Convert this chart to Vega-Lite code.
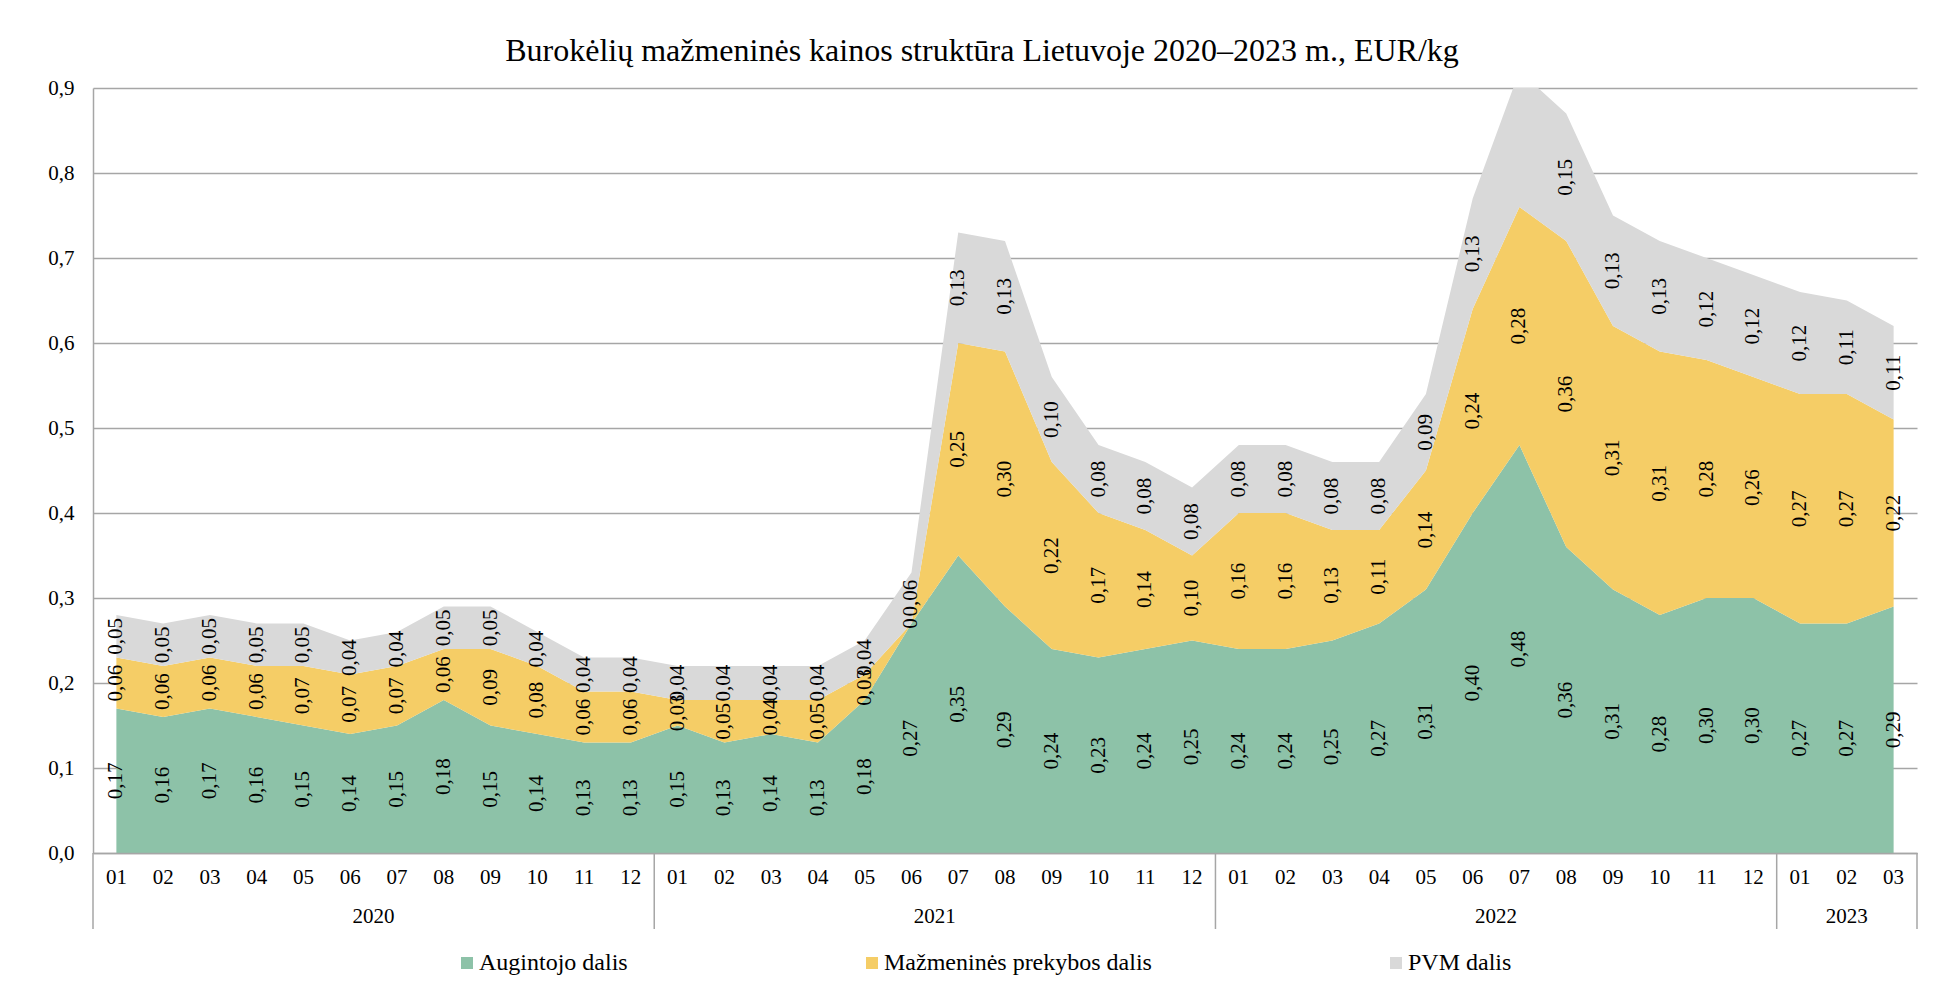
{
  "$schema": "https://vega.github.io/schema/vega-lite/v6.json",
  "width": 1824,
  "height": 765,
  "autosize": {"type": "none"},
  "padding": {"left": 93, "top": 88, "right": 20, "bottom": 147},
  "background": "white",
  "config": {
    "font": "Liberation Serif",
    "view": {"stroke": null},
    "text": {"font": "Liberation Serif", "color": "#000000"},
    "axis": {"labelFont": "Liberation Serif"},
    "legend": {"labelFont": "Liberation Serif"}
  },
  "title": {
    "text": "Burokėlių mažmeninės kainos struktūra Lietuvoje 2020–2023 m., EUR/kg",
    "font": "Liberation Serif",
    "fontSize": 32,
    "fontWeight": "normal",
    "color": "#000000",
    "anchor": "middle",
    "offset": 9,
    "dx": -23
  },
  "datasets": {
    "prices": [
      {"ym": "2020-01", "series": "Augintojo dalis", "value": 0.17},
      {"ym": "2020-01", "series": "Mažmeninės prekybos dalis", "value": 0.06},
      {"ym": "2020-01", "series": "PVM dalis", "value": 0.05},
      {"ym": "2020-02", "series": "Augintojo dalis", "value": 0.16},
      {"ym": "2020-02", "series": "Mažmeninės prekybos dalis", "value": 0.06},
      {"ym": "2020-02", "series": "PVM dalis", "value": 0.05},
      {"ym": "2020-03", "series": "Augintojo dalis", "value": 0.17},
      {"ym": "2020-03", "series": "Mažmeninės prekybos dalis", "value": 0.06},
      {"ym": "2020-03", "series": "PVM dalis", "value": 0.05},
      {"ym": "2020-04", "series": "Augintojo dalis", "value": 0.16},
      {"ym": "2020-04", "series": "Mažmeninės prekybos dalis", "value": 0.06},
      {"ym": "2020-04", "series": "PVM dalis", "value": 0.05},
      {"ym": "2020-05", "series": "Augintojo dalis", "value": 0.15},
      {"ym": "2020-05", "series": "Mažmeninės prekybos dalis", "value": 0.07},
      {"ym": "2020-05", "series": "PVM dalis", "value": 0.05},
      {"ym": "2020-06", "series": "Augintojo dalis", "value": 0.14},
      {"ym": "2020-06", "series": "Mažmeninės prekybos dalis", "value": 0.07},
      {"ym": "2020-06", "series": "PVM dalis", "value": 0.04},
      {"ym": "2020-07", "series": "Augintojo dalis", "value": 0.15},
      {"ym": "2020-07", "series": "Mažmeninės prekybos dalis", "value": 0.07},
      {"ym": "2020-07", "series": "PVM dalis", "value": 0.04},
      {"ym": "2020-08", "series": "Augintojo dalis", "value": 0.18},
      {"ym": "2020-08", "series": "Mažmeninės prekybos dalis", "value": 0.06},
      {"ym": "2020-08", "series": "PVM dalis", "value": 0.05},
      {"ym": "2020-09", "series": "Augintojo dalis", "value": 0.15},
      {"ym": "2020-09", "series": "Mažmeninės prekybos dalis", "value": 0.09},
      {"ym": "2020-09", "series": "PVM dalis", "value": 0.05},
      {"ym": "2020-10", "series": "Augintojo dalis", "value": 0.14},
      {"ym": "2020-10", "series": "Mažmeninės prekybos dalis", "value": 0.08},
      {"ym": "2020-10", "series": "PVM dalis", "value": 0.04},
      {"ym": "2020-11", "series": "Augintojo dalis", "value": 0.13},
      {"ym": "2020-11", "series": "Mažmeninės prekybos dalis", "value": 0.06},
      {"ym": "2020-11", "series": "PVM dalis", "value": 0.04},
      {"ym": "2020-12", "series": "Augintojo dalis", "value": 0.13},
      {"ym": "2020-12", "series": "Mažmeninės prekybos dalis", "value": 0.06},
      {"ym": "2020-12", "series": "PVM dalis", "value": 0.04},
      {"ym": "2021-01", "series": "Augintojo dalis", "value": 0.15},
      {"ym": "2021-01", "series": "Mažmeninės prekybos dalis", "value": 0.03},
      {"ym": "2021-01", "series": "PVM dalis", "value": 0.04},
      {"ym": "2021-02", "series": "Augintojo dalis", "value": 0.13},
      {"ym": "2021-02", "series": "Mažmeninės prekybos dalis", "value": 0.05},
      {"ym": "2021-02", "series": "PVM dalis", "value": 0.04},
      {"ym": "2021-03", "series": "Augintojo dalis", "value": 0.14},
      {"ym": "2021-03", "series": "Mažmeninės prekybos dalis", "value": 0.04},
      {"ym": "2021-03", "series": "PVM dalis", "value": 0.04},
      {"ym": "2021-04", "series": "Augintojo dalis", "value": 0.13},
      {"ym": "2021-04", "series": "Mažmeninės prekybos dalis", "value": 0.05},
      {"ym": "2021-04", "series": "PVM dalis", "value": 0.04},
      {"ym": "2021-05", "series": "Augintojo dalis", "value": 0.18},
      {"ym": "2021-05", "series": "Mažmeninės prekybos dalis", "value": 0.03},
      {"ym": "2021-05", "series": "PVM dalis", "value": 0.04},
      {"ym": "2021-06", "series": "Augintojo dalis", "value": 0.27},
      {"ym": "2021-06", "series": "Mažmeninės prekybos dalis", "value": 0},
      {"ym": "2021-06", "series": "PVM dalis", "value": 0.06},
      {"ym": "2021-07", "series": "Augintojo dalis", "value": 0.35},
      {"ym": "2021-07", "series": "Mažmeninės prekybos dalis", "value": 0.25},
      {"ym": "2021-07", "series": "PVM dalis", "value": 0.13},
      {"ym": "2021-08", "series": "Augintojo dalis", "value": 0.29},
      {"ym": "2021-08", "series": "Mažmeninės prekybos dalis", "value": 0.30},
      {"ym": "2021-08", "series": "PVM dalis", "value": 0.13},
      {"ym": "2021-09", "series": "Augintojo dalis", "value": 0.24},
      {"ym": "2021-09", "series": "Mažmeninės prekybos dalis", "value": 0.22},
      {"ym": "2021-09", "series": "PVM dalis", "value": 0.10},
      {"ym": "2021-10", "series": "Augintojo dalis", "value": 0.23},
      {"ym": "2021-10", "series": "Mažmeninės prekybos dalis", "value": 0.17},
      {"ym": "2021-10", "series": "PVM dalis", "value": 0.08},
      {"ym": "2021-11", "series": "Augintojo dalis", "value": 0.24},
      {"ym": "2021-11", "series": "Mažmeninės prekybos dalis", "value": 0.14},
      {"ym": "2021-11", "series": "PVM dalis", "value": 0.08},
      {"ym": "2021-12", "series": "Augintojo dalis", "value": 0.25},
      {"ym": "2021-12", "series": "Mažmeninės prekybos dalis", "value": 0.10},
      {"ym": "2021-12", "series": "PVM dalis", "value": 0.08},
      {"ym": "2022-01", "series": "Augintojo dalis", "value": 0.24},
      {"ym": "2022-01", "series": "Mažmeninės prekybos dalis", "value": 0.16},
      {"ym": "2022-01", "series": "PVM dalis", "value": 0.08},
      {"ym": "2022-02", "series": "Augintojo dalis", "value": 0.24},
      {"ym": "2022-02", "series": "Mažmeninės prekybos dalis", "value": 0.16},
      {"ym": "2022-02", "series": "PVM dalis", "value": 0.08},
      {"ym": "2022-03", "series": "Augintojo dalis", "value": 0.25},
      {"ym": "2022-03", "series": "Mažmeninės prekybos dalis", "value": 0.13},
      {"ym": "2022-03", "series": "PVM dalis", "value": 0.08},
      {"ym": "2022-04", "series": "Augintojo dalis", "value": 0.27},
      {"ym": "2022-04", "series": "Mažmeninės prekybos dalis", "value": 0.11},
      {"ym": "2022-04", "series": "PVM dalis", "value": 0.08},
      {"ym": "2022-05", "series": "Augintojo dalis", "value": 0.31},
      {"ym": "2022-05", "series": "Mažmeninės prekybos dalis", "value": 0.14},
      {"ym": "2022-05", "series": "PVM dalis", "value": 0.09},
      {"ym": "2022-06", "series": "Augintojo dalis", "value": 0.40},
      {"ym": "2022-06", "series": "Mažmeninės prekybos dalis", "value": 0.24},
      {"ym": "2022-06", "series": "PVM dalis", "value": 0.13},
      {"ym": "2022-07", "series": "Augintojo dalis", "value": 0.48},
      {"ym": "2022-07", "series": "Mažmeninės prekybos dalis", "value": 0.28},
      {"ym": "2022-07", "series": "PVM dalis", "value": 0.16},
      {"ym": "2022-08", "series": "Augintojo dalis", "value": 0.36},
      {"ym": "2022-08", "series": "Mažmeninės prekybos dalis", "value": 0.36},
      {"ym": "2022-08", "series": "PVM dalis", "value": 0.15},
      {"ym": "2022-09", "series": "Augintojo dalis", "value": 0.31},
      {"ym": "2022-09", "series": "Mažmeninės prekybos dalis", "value": 0.31},
      {"ym": "2022-09", "series": "PVM dalis", "value": 0.13},
      {"ym": "2022-10", "series": "Augintojo dalis", "value": 0.28},
      {"ym": "2022-10", "series": "Mažmeninės prekybos dalis", "value": 0.31},
      {"ym": "2022-10", "series": "PVM dalis", "value": 0.13},
      {"ym": "2022-11", "series": "Augintojo dalis", "value": 0.30},
      {"ym": "2022-11", "series": "Mažmeninės prekybos dalis", "value": 0.28},
      {"ym": "2022-11", "series": "PVM dalis", "value": 0.12},
      {"ym": "2022-12", "series": "Augintojo dalis", "value": 0.30},
      {"ym": "2022-12", "series": "Mažmeninės prekybos dalis", "value": 0.26},
      {"ym": "2022-12", "series": "PVM dalis", "value": 0.12},
      {"ym": "2023-01", "series": "Augintojo dalis", "value": 0.27},
      {"ym": "2023-01", "series": "Mažmeninės prekybos dalis", "value": 0.27},
      {"ym": "2023-01", "series": "PVM dalis", "value": 0.12},
      {"ym": "2023-02", "series": "Augintojo dalis", "value": 0.27},
      {"ym": "2023-02", "series": "Mažmeninės prekybos dalis", "value": 0.27},
      {"ym": "2023-02", "series": "PVM dalis", "value": 0.11},
      {"ym": "2023-03", "series": "Augintojo dalis", "value": 0.29},
      {"ym": "2023-03", "series": "Mažmeninės prekybos dalis", "value": 0.22},
      {"ym": "2023-03", "series": "PVM dalis", "value": 0.11}
    ]
  },
  "layer": [
    {
      "data": {"name": "prices"},
      "transform": [
        {"stack": "value", "groupby": ["ym"], "sort": [{"field": "series", "order": "ascending"}], "as": ["y0", "y1"]}
      ],
      "mark": {"type": "area", "clip": true, "opacity": 1},
      "encoding": {
        "x": {
          "field": "ym",
          "type": "ordinal",
          "bandPosition": 0.5,
          "scale": {"type": "band", "paddingInner": 0, "paddingOuter": 0},
          "axis": {
            "title": null,
            "labelExpr": "substring(datum.value, 5)",
            "labelAngle": 0,
            "ticks": false,
            "labelFontSize": 21,
            "labelFont": "Liberation Serif",
            "labelColor": "#000000",
            "labelPadding": 13,
            "domainColor": "#A6A6A6",
            "domainWidth": 1.5,
            "grid": false,
            "zindex": 1
          }
        },
        "y": {
          "field": "y1",
          "type": "quantitative",
          "scale": {"domain": [0, 0.9], "nice": false, "zero": true},
          "axis": {
            "title": null,
            "values": [0, 0.1, 0.2, 0.3, 0.4, 0.5, 0.6, 0.7, 0.8, 0.9],
            "labelExpr": "replace(format(datum.value, '.1f'), '.', ',')",
            "ticks": false,
            "labelFontSize": 21,
            "labelFont": "Liberation Serif",
            "labelColor": "#000000",
            "labelPadding": 19,
            "domainColor": "#A6A6A6",
            "domainWidth": 1.5,
            "grid": true,
            "gridColor": "#A6A6A6",
            "gridWidth": 1.5
          }
        },
        "y2": {"field": "y0"},
        "color": {
          "field": "series",
          "type": "nominal",
          "scale": {
            "domain": ["Augintojo dalis", "Mažmeninės prekybos dalis", "PVM dalis"],
            "range": ["#8DC2A8", "#F5CD66", "#D9D9D9"]
          },
          "legend": {
            "title": null,
            "orient": "none",
            "legendX": 362,
            "legendY": 863,
            "direction": "horizontal",
            "symbolType": "square",
            "symbolSize": 144,
            "symbolStrokeWidth": 0,
            "symbolOpacity": 1,
            "labelFontSize": 24,
            "labelFont": "Liberation Serif",
            "labelColor": "#000000",
            "labelLimit": 0,
            "labelOffset": 0,
            "columnPadding": 232,
            "padding": 0
          }
        }
      }
    },
    {
      "data": {"name": "prices"},
      "transform": [
        {"stack": "value", "groupby": ["ym"], "sort": [{"field": "series", "order": "ascending"}], "as": ["y0", "y1"]},
        {"filter": "datum.y1 <= 0.9"},
        {"calculate": "(datum.y0 + datum.y1) / 2", "as": "mid"},
        {"calculate": "datum.value == 0 ? '0' : replace(format(datum.value, '.2f'), '.', ',')", "as": "label"}
      ],
      "mark": {"type": "text", "angle": 270, "align": "center", "baseline": "middle", "fontSize": 21, "font": "Liberation Serif", "color": "#000000"},
      "encoding": {
        "x": {"field": "ym", "type": "ordinal", "bandPosition": 0.5},
        "y": {"field": "mid", "type": "quantitative"},
        "text": {"field": "label"}
      }
    },
    {
      "data": {"values": [{"year": "2020", "ym": "2020-06"}, {"year": "2021", "ym": "2021-06"}, {"year": "2022", "ym": "2022-06"}]},
      "mark": {"type": "text", "align": "center", "baseline": "middle", "fontSize": 21, "font": "Liberation Serif", "color": "#000000", "dy": 64},
      "encoding": {
        "x": {"field": "ym", "type": "ordinal", "bandPosition": 1},
        "y": {"datum": 0, "type": "quantitative"},
        "text": {"field": "year"}
      }
    },
    {
      "data": {"values": [{"year": "2023", "ym": "2023-02"}]},
      "mark": {"type": "text", "align": "center", "baseline": "middle", "fontSize": 21, "font": "Liberation Serif", "color": "#000000", "dy": 64},
      "encoding": {
        "x": {"field": "ym", "type": "ordinal", "bandPosition": 0.5},
        "y": {"datum": 0, "type": "quantitative"},
        "text": {"field": "year"}
      }
    },
    {
      "data": {"values": [{"ym": "2020-01"}]},
      "mark": {"type": "rule", "color": "#A6A6A6", "strokeWidth": 1.5},
      "encoding": {
        "x": {"field": "ym", "type": "ordinal", "bandPosition": 0},
        "y": {"datum": 0, "type": "quantitative"},
        "y2": {"datum": -0.0894}
      }
    },
    {
      "data": {"values": [{"ym": "2020-12"}, {"ym": "2021-12"}, {"ym": "2022-12"}, {"ym": "2023-03"}]},
      "mark": {"type": "rule", "color": "#A6A6A6", "strokeWidth": 1.5},
      "encoding": {
        "x": {"field": "ym", "type": "ordinal", "bandPosition": 1},
        "y": {"datum": 0, "type": "quantitative"},
        "y2": {"datum": -0.0894}
      }
    }
  ]
}
